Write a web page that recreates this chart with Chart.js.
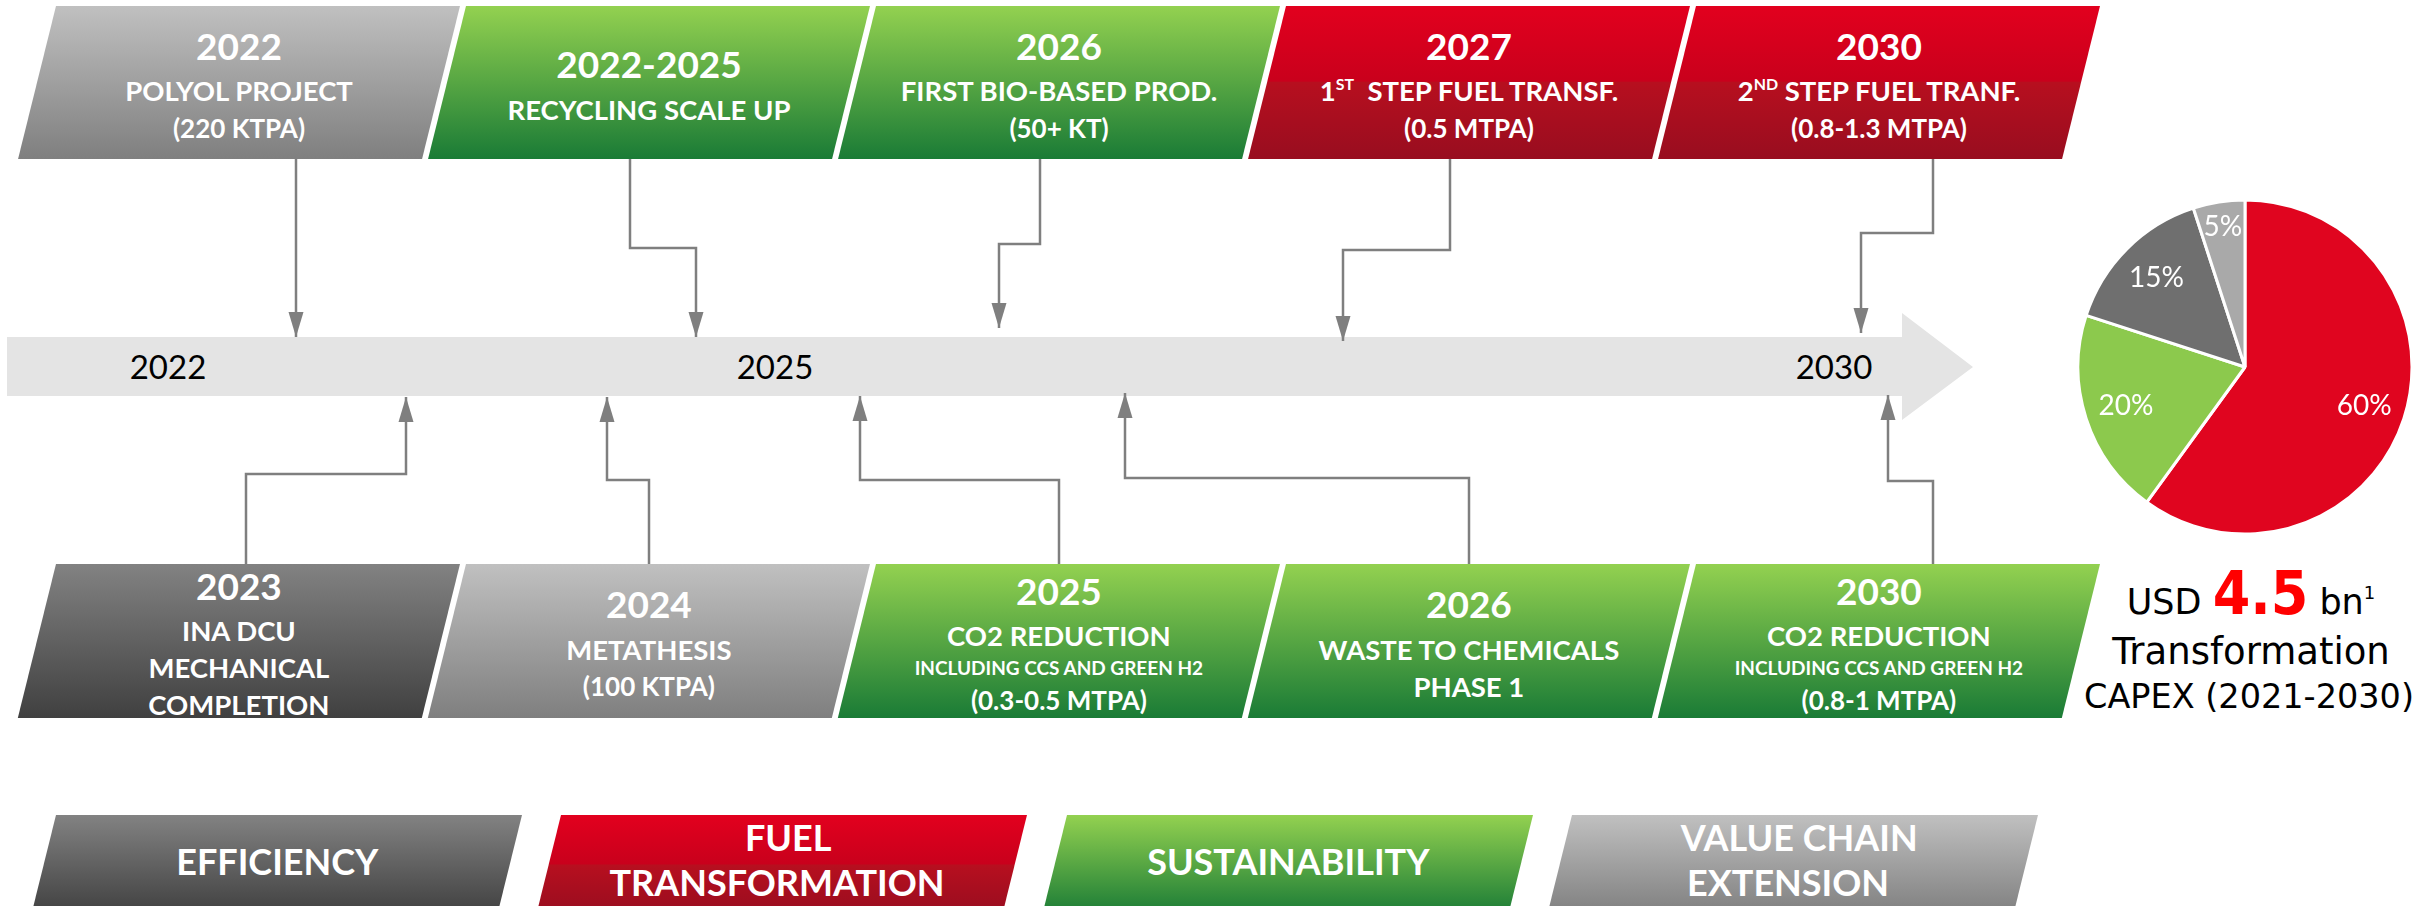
<!DOCTYPE html>
<html>
<head>
<meta charset="utf-8">
<title>Transformation roadmap</title>
<script src="https://cdn.jsdelivr.net/npm/chart.js@4.4.1/dist/chart.umd.min.js"></script>
<style>
    html, body { margin: 0; padding: 0; background: #fff; }
    #stage { position: relative; width: 2422px; height: 906px; overflow: hidden; }
    #roadmap { position: absolute; left: 0; top: 0; }
    #capexChart { position: absolute; left: 2065px; top: 187px; }
    text { white-space: pre; }
</style>
</head>
<body>
<div id="stage">
    <svg id="roadmap" width="2422" height="906" xmlns="http://www.w3.org/2000/svg"></svg>
    <canvas id="capexChart" width="360" height="360"></canvas>
</div>
<script>
// Données du graphique
const axisYears = ['2022', '2025', '2030'];

const topYears = ['2022', '2022-2025', '2026', '2027', '2030'];
const topTexts = [
    ['POLYOL PROJECT', '(220 KTPA)'],
    ['RECYCLING SCALE UP'],
    ['FIRST BIO-BASED PROD.', '(50+ KT)'],
    ['1^ST^  STEP FUEL TRANSF.', '(0.5 MTPA)'],
    ['2^ND^ STEP FUEL TRANF.', '(0.8-1.3 MTPA)']
];
const topPillars = ['value', 'sustain', 'sustain', 'fuel', 'fuel'];

const bottomYears = ['2023', '2024', '2025', '2026', '2030'];
const bottomTexts = [
    ['INA DCU', 'MECHANICAL', 'COMPLETION'],
    ['METATHESIS', '(100 KTPA)'],
    ['CO2 REDUCTION', 'INCLUDING CCS AND GREEN H2', '(0.3-0.5 MTPA)'],
    ['WASTE TO CHEMICALS', 'PHASE 1'],
    ['CO2 REDUCTION', 'INCLUDING CCS AND GREEN H2', '(0.8-1 MTPA)']
];
const bottomPillars = ['efficiency', 'value', 'sustain', 'sustain', 'sustain'];
const smallLines = ['INCLUDING CCS AND GREEN H2'];

const pillarKeys = ['efficiency', 'fuel', 'sustain', 'value'];
const pillarLabels = [['EFFICIENCY'], ['FUEL', 'TRANSFORMATION'], ['SUSTAINABILITY'], ['VALUE CHAIN', 'EXTENSION']];

const capexLabels = ['Fuel transformation', 'Sustainability', 'Efficiency', 'Value chain extension'];
const capexShares = [60, 20, 15, 5];
const capexTotal = '4.5';

// Couleurs des piliers (dégradés haut -> bas)
const pillarGradients = {
    efficiency: [[0, '#828282'], [1, '#404040']],
    value: [[0, '#c0c0c0'], [1, '#7f7f7f']],
    sustain: [[0, '#93d150'], [1, '#1a7b36']],
    fuel: [[0, '#e2001e'], [0.49, '#c9001c'], [0.5, '#b70f1f'], [1, '#980d1f']]
};
const capexColors = ['#e0051f', '#8cc94d', '#6f6f6f', '#a9a9a9'];

// Mise en page (positions en pixels)
const layout = {
    font: 'Lato, "Open Sans", sans-serif',
    slope: 0.248,
    boxX: [56, 466, 876, 1286, 1696],
    boxW: 404,
    topY: 6, topH: 153,
    bottomY: 564, bottomH: 154,
    legendX: [56, 561, 1067, 1572],
    legendW: 466, legendY: 815, legendH: 100,
    axisLabelX: [168, 775, 1834],
    axisY: 367,
    lineColor: '#7f7f7f'
};

// Connecteurs (chemins des flèches)
const topConnectors = [
    [[296, 159], [296, 337]],
    [[630, 159], [630, 248], [696, 248], [696, 337]],
    [[1040, 159], [1040, 244], [999, 244], [999, 328]],
    [[1450, 159], [1450, 250], [1343, 250], [1343, 341]],
    [[1933, 159], [1933, 233], [1861, 233], [1861, 333]]
];
const bottomConnectors = [
    [[246, 564], [246, 474], [406, 474], [406, 397]],
    [[649, 564], [649, 480], [607, 480], [607, 397]],
    [[1059, 564], [1059, 480], [860, 480], [860, 396]],
    [[1469, 564], [1469, 478], [1125, 478], [1125, 393]],
    [[1933, 564], [1933, 481], [1888, 481], [1888, 395]]
];

const svgEl = document.getElementById('roadmap');
let svg = '';

// Dégradés
svg += '<defs>';
Object.keys(pillarGradients).forEach(key => {
    svg += `<linearGradient id="grad-${key}" x1="0" y1="0" x2="0" y2="1">`;
    pillarGradients[key].forEach(([o, c]) => { svg += `<stop offset="${o}" stop-color="${c}"/>`; });
    svg += '</linearGradient>';
});
svg += '</defs>';

function parallelogram(x, y, w, h, key) {
    const s = h * layout.slope;
    const pts = [[x, y], [x + w, y], [x + w - s, y + h], [x - s, y + h]]
        .map(p => p.join(',')).join(' ');
    return `<polygon points="${pts}" fill="url(#grad-${key})"/>`;
}

function textLine(str, cx, cy, size, weight, fill, family) {
    const base = cy + size * 0.36;
    const parts = str.split('^');
    let inner = '';
    let pending = 0;
    parts.forEach((p, i) => {
        if (!p) return;
        if (i % 2 === 1) {
            const rise = size * 0.4;
            inner += `<tspan font-size="${size * 0.58}" dy="${-rise}">${p}</tspan>`;
            pending = rise;
        } else {
            inner += `<tspan dy="${pending}">${p}</tspan>`;
            pending = 0;
        }
    });
    return `<text x="${cx}" y="${base}" text-anchor="middle" font-family='${family || layout.font}' ` +
        `font-size="${size}" font-weight="${weight}" fill="${fill}">${inner}</text>`;
}

// Style de chaque ligne de texte
function lineSize(str) {
    if (smallLines.includes(str)) return 19;
    if (str.startsWith('(')) return 26;
    return 27.5;
}
function lineGap(prev, next) {
    if (prev === 'year') return 45;
    if (smallLines.includes(prev) || smallLines.includes(next)) return 32;
    return 37;
}

function milestoneBox(x, y, h, key, year, lines) {
    let out = parallelogram(x, y, layout.boxW, h, key);
    const items = ['year'].concat(lines);
    const offsets = [0];
    for (let i = 1; i < items.length; i++) {
        offsets.push(offsets[i - 1] + lineGap(items[i - 1], items[i]));
    }
    const span = offsets[offsets.length - 1];
    const midY = y + h / 2 + 5;
    const cx = x + layout.boxW / 2 - (h / 2) * layout.slope;
    items.forEach((item, i) => {
        const cy = midY - span / 2 + offsets[i];
        if (item === 'year') out += textLine(year, cx, cy, 37, 700, '#fff');
        else out += textLine(item, cx, cy, lineSize(item), 700, '#fff');
    });
    return out;
}

// Bande de l'axe du temps (flèche)
svg += '<polygon points="7,337 1902,337 1902,313 1973,367 1902,420 1902,396 7,396" fill="#e4e4e4"/>';
axisYears.forEach((yr, i) => {
    svg += textLine(yr, layout.axisLabelX[i], layout.axisY, 33, 400, '#000');
});

// Connecteurs et pointes de flèche
function connector(points) {
    let out = `<polyline points="${points.map(p => p.join(',')).join(' ')}" fill="none" ` +
        `stroke="${layout.lineColor}" stroke-width="2.5"/>`;
    const [tx, ty] = points[points.length - 1];
    const [px, py] = points[points.length - 2];
    const dir = Math.sign(ty - py);
    const len = 25, half = 7.5;
    out += `<polygon points="${tx},${ty} ${tx - half},${ty - dir * len} ${tx + half},${ty - dir * len}" fill="${layout.lineColor}"/>`;
    return out;
}
topConnectors.forEach(c => { svg += connector(c); });
bottomConnectors.forEach(c => { svg += connector(c); });

// Boîtes des jalons
topYears.forEach((yr, i) => {
    svg += milestoneBox(layout.boxX[i], layout.topY, layout.topH, topPillars[i], yr, topTexts[i]);
});
bottomYears.forEach((yr, i) => {
    svg += milestoneBox(layout.boxX[i], layout.bottomY, layout.bottomH, bottomPillars[i], yr, bottomTexts[i]);
});

// Légende des piliers
pillarKeys.forEach((key, i) => {
    const x = layout.legendX[i];
    svg += parallelogram(x, layout.legendY, layout.legendW, layout.legendH, key);
    const lines = pillarLabels[i];
    const midY = layout.legendY + 47;
    lines.forEach((txt, j) => {
        const cy = midY + (j - (lines.length - 1) / 2) * 45 - (lines.length - 1) * 1;
        const cx = x + layout.legendW / 2 - (cy - layout.legendY) * layout.slope;
        svg += textLine(txt, cx, cy, 36, 700, '#fff');
    });
});

// Texte CAPEX
const capexFont = '"DejaVu Sans", "Noto Sans", sans-serif';
const capexBold = '"DejaVu Sans Condensed", "DejaVu Sans", sans-serif';
svg += `<text x="2251" y="614" text-anchor="middle" font-family='${capexFont}' font-size="35" fill="#000">` +
    `<tspan>USD </tspan><tspan fill="#ff0000" font-family='${capexBold}' font-weight="700" font-size="60">${capexTotal}</tspan>` +
    `<tspan> bn</tspan><tspan font-size="18" dy="-15">1</tspan></text>`;
svg += `<text x="2251" y="664" text-anchor="middle" font-family='${capexFont}' font-size="37" fill="#000">Transformation</text>`;
svg += `<text x="2249" y="708" text-anchor="middle" font-family='${capexFont}' font-size="33.5" fill="#000">CAPEX (2021-2030)</text>`;

svgEl.innerHTML = svg;

// Étiquettes des parts du camembert
const sliceLabels = {
    id: 'sliceLabels',
    afterDatasetsDraw(chart) {
        const { ctx } = chart;
        const meta = chart.getDatasetMeta(0);
        ctx.save();
        ctx.fillStyle = '#fff';
        ctx.font = '28px Lato, "Open Sans", sans-serif';
        ctx.textAlign = 'center';
        ctx.textBaseline = 'middle';
        meta.data.forEach((arc, i) => {
            const p = arc.getProps(['x', 'y', 'startAngle', 'endAngle', 'outerRadius'], true);
            const mid = (p.startAngle + p.endAngle) / 2;
            const f = capexShares[i] < 10 ? 0.85 : 0.75;
            ctx.fillText(capexShares[i] + '%', p.x + Math.cos(mid) * p.outerRadius * f, p.y + Math.sin(mid) * p.outerRadius * f);
        });
        ctx.restore();
    }
};

new Chart(document.getElementById('capexChart'), {
    type: 'pie',
    data: {
        labels: capexLabels,
        datasets: [{
            data: capexShares,
            backgroundColor: capexColors,
            borderColor: '#fff',
            borderWidth: 3,
            hoverOffset: 0
        }]
    },
    options: {
        responsive: false,
        animation: false,
        radius: 167,
        layout: { padding: 0 },
        plugins: {
            legend: { display: false },
            tooltip: { enabled: false }
        }
    },
    plugins: [sliceLabels]
});
</script>
</body>
</html>
